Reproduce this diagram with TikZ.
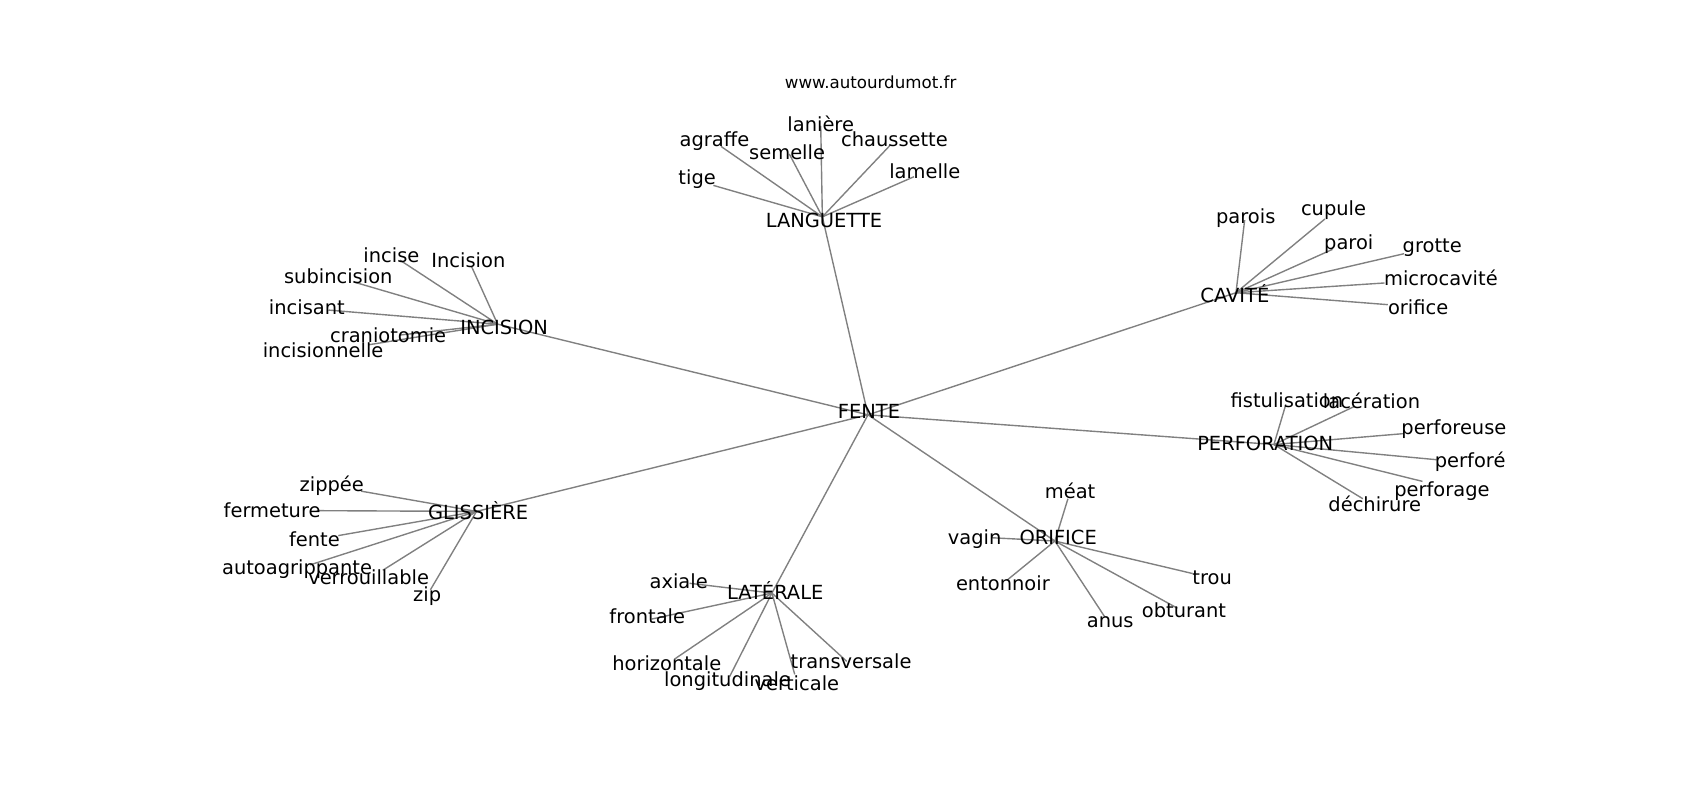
\documentclass[tikz,border=0pt]{standalone}
\usepackage{fontspec}
\setmainfont{DejaVu Sans}
\usetikzlibrary{backgrounds}

\tikzset{
  word/.style={inner sep=0pt, font=\fontsize{14bp}{17bp}\selectfont},
  edge/.style={draw=gray, line width=1bp},
}

\begin{document}
\begin{tikzpicture}[x=0.7806bp, y=-0.7806bp]
\useasboundingbox (0,0) rectangle (1568,738);

% Title
\node[font=\fontsize{12bp}{14bp}\selectfont] (title) at (803,76) {www.autourdumot.fr};

% Hubs
\foreach \n/\px/\py/\tx/\ty/\w in {
  FENTE/800.6/382.6/801.5/379/FENTE,
  LANGUETTE/758.5/200/760/203/LANGUETTE,
  CAVITE/1140/270/1139/271/CAVITÉ,
  INCISION/459/299/465/302/INCISION,
  PERFORATION/1175/410/1167/409/PERFORATION,
  GLISSIERE/439.5/471.7/441/471/GLISSIÈRE,
  LATERALE/712/547/715/545/LATÉRALE,
  ORIFICE/973/499/976/496/ORIFICE}{
  \coordinate (\n) at (\px,\py);
  \node[word] (\n-txt) at (\tx,\ty) {\w};
}

% Hub edges
\begin{pgfonlayer}{background}
\foreach \n in {LANGUETTE,CAVITE,INCISION,PERFORATION,GLISSIERE,LATERALE,ORIFICE}
  \draw[edge] (FENTE) -- (\n);
\end{pgfonlayer}

% Leaves
\foreach \h/\n/\px/\py/\tx/\ty/\w in {
  LANGUETTE/tige/658/171/643/165/tige,
  LANGUETTE/agraffe/665/135/659/130/agraffe,
  LANGUETTE/semelle/728/142/726/140/semelle,
  LANGUETTE/laniere/757/116/757/114/lanière,
  LANGUETTE/chaussette/821/134/825/128/chaussette,
  LANGUETTE/lamelle/843/163/853/158/lamelle,
  CAVITE/parois/1148/203/1149/201/parois,
  CAVITE/cupule/1222/202/1230/194/cupule,
  CAVITE/paroi/1229/230/1244/225/paroi,
  CAVITE/grotte/1295/234/1321/228/grotte,
  CAVITE/microcavite/1277/261/1329/256/microcavité,
  CAVITE/orifice/1280/281/1308/283/orifice,
  INCISION/incise/369/240/361/235/incise,
  INCISION/Incision/435/246/432/240/Incision,
  INCISION/subincision/326/260/312/255/subincision,
  INCISION/incisant/303/286/283/283/incisant,
  INCISION/craniotomie/369/309/358/309/craniotomie,
  INCISION/incisionnelle/340/318/298/323/incisionnelle,
  PERFORATION/fistulisation/1186/373/1187/369/fistulisation,
  PERFORATION/laceration/1249/375/1265/370/lacération,
  PERFORATION/perforeuse/1294/400/1341/396/perforeuse,
  PERFORATION/perfore/1325/424/1356/426/perforé,
  PERFORATION/perforage/1312/444/1330/453/perforage,
  PERFORATION/dechirure/1257/460/1268/465/déchirure,
  GLISSIERE/zippee/333/453/306/448/zippée,
  GLISSIERE/fermeture/292/471/251/471/fermeture,
  GLISSIERE/fente/312/494/290/497/fente,
  GLISSIERE/autoagrippante/286/521/274/525/autoagrippante,
  GLISSIERE/verrouillable/353/526/340/532/verrouillable,
  GLISSIERE/zip/397/544/394/550/zip,
  LATERALE/axiale/636/538/626/536/axiale,
  LATERALE/frontale/601/571/597/568/frontale,
  LATERALE/horizontale/622/608/615/612/horizontale,
  LATERALE/longitudinale/673/624/671/628/longitudinale,
  LATERALE/verticale/733/622/735/630/verticale,
  LATERALE/transversale/781/610/785/610/transversale,
  ORIFICE/meat/985/460/987/453/méat,
  ORIFICE/vagin/915/496/899/497/vagin,
  ORIFICE/entonnoir/929/535/925/538/entonnoir,
  ORIFICE/anus/1019/569/1024/574/anus,
  ORIFICE/obturant/1086/561/1092/563/obturant,
  ORIFICE/trou/1100/529/1118/533/trou}{
  \coordinate (\n) at (\px,\py);
  \begin{pgfonlayer}{background}
    \draw[edge] (\h) -- (\n);
  \end{pgfonlayer}
  \node[word] (\n-txt) at (\tx,\ty) {\w};
}
\end{tikzpicture}
\end{document}
